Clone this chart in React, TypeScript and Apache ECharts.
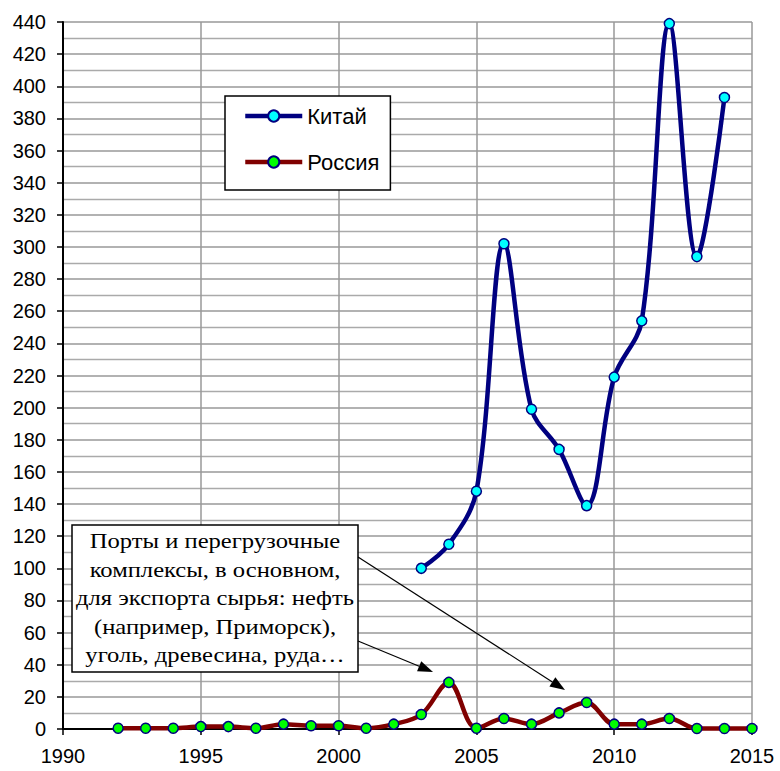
import React, { useEffect, useRef } from "react";
import * as echarts from "echarts";

const chinaYears = [2003, 2004, 2005, 2006, 2007, 2008, 2009, 2010, 2011, 2012, 2013, 2014];
const chinaValues = [100, 115, 148, 302, 199, 174, 139, 219, 254, 439, 294, 393];

const russiaYears = [1992, 1993, 1994, 1995, 1996, 1997, 1998, 1999, 2000, 2001, 2002, 2003, 2004, 2005, 2006, 2007, 2008, 2009, 2010, 2011, 2012, 2013, 2014, 2015];
const russiaValues = [0.5, 0.5, 0.5, 1.5, 1.5, 0.5, 3, 2, 2, 0.5, 3, 9, 29, 0.5, 6.5, 3, 10, 16.5, 3, 3, 6.5, 0.3, 0.3, 0.3];

const seriesNames = ["Китай", "Россия"];
const noteLines = [
  "Порты и перегрузочные",
  "комплексы, в основном,",
  "для экспорта сырья: нефть",
  "(например, Приморск),",
  "уголь, древесина, руда…",
];

function arrow(x1: number, y1: number, x2: number, y2: number) {
  const dx = x2 - x1;
  const dy = y2 - y1;
  const len = Math.sqrt(dx * dx + dy * dy);
  const ux = dx / len;
  const uy = dy / len;
  const hl = 15;
  const hw = 5.5;
  const bx = x2 - ux * hl;
  const by = y2 - uy * hl;
  return [
    { type: "line", shape: { x1, y1, x2: bx, y2: by }, style: { stroke: "#000", lineWidth: 1.2 }, z: 100 },
    {
      type: "polygon",
      shape: { points: [[x2, y2], [bx - uy * hw, by + ux * hw], [bx + uy * hw, by - ux * hw]] },
      style: { fill: "#000" },
      z: 100,
    },
  ];
}

export default function App() {
  const ref = useRef<HTMLDivElement>(null);
  useEffect(() => {
    if (!ref.current) return;
    const chart = echarts.init(ref.current, undefined, { renderer: "svg" });
    const font = "'Liberation Sans', Arial, sans-serif";
    chart.setOption({
      animation: false,
      backgroundColor: "#fff",
      grid: { left: 63, right: 28, top: 22, bottom: 42, containLabel: false },
      legend: {
        orient: "vertical",
        left: 225,
        top: 96,
        padding: [9, 11, 17, 18],
        itemGap: 24,
        itemWidth: 57,
        itemHeight: 14,
        backgroundColor: "#fff",
        borderColor: "#000",
        borderWidth: 1.5,
        borderRadius: 0,
        lineStyle: { width: 4.5 },
        textStyle: { fontFamily: font, fontSize: 22, color: "#000" },
        data: seriesNames,
      },
      xAxis: {
        type: "value",
        min: 1990,
        max: 2015,
        interval: 5,
        axisLine: { show: true, onZero: true, lineStyle: { color: "#000", width: 2 } },
        axisTick: { show: true, inside: false, length: 6, lineStyle: { color: "#000", width: 1.5 } },
        axisLabel: { color: "#000", fontFamily: font, fontSize: 20, margin: 17, formatter: (v: number) => String(v) },
        splitLine: { show: true, lineStyle: { color: "#999", width: 1.5 } },
      },
      yAxis: {
        type: "value",
        min: 0,
        max: 440,
        interval: 20,
        axisLine: { show: true, lineStyle: { color: "#000", width: 2 } },
        axisTick: { show: true, inside: false, length: 6, lineStyle: { color: "#000", width: 1.5 } },
        axisLabel: { color: "#000", fontFamily: font, fontSize: 20, margin: 17 },
        splitLine: { show: true, lineStyle: { color: "#999", width: 1.5 } },
        minorTick: { show: false, splitNumber: 2 },
        minorSplitLine: { show: true, lineStyle: { color: "#aaa", width: 1.3 } },
      },
      series: [
        {
          name: seriesNames[0],
          type: "line",
          smooth: 0.35,
          data: chinaYears.map((y, i) => [y, chinaValues[i]]),
          lineStyle: { color: "#000080", width: 4.5 },
          itemStyle: { color: "#00ffff", borderColor: "#000080", borderWidth: 1.5 },
          symbol: "circle",
          symbolSize: 10,
          z: 3,
        },
        {
          name: seriesNames[1],
          type: "line",
          smooth: 0.35,
          data: russiaYears.map((y, i) => [y, russiaValues[i]]),
          lineStyle: { color: "#800000", width: 4.5 },
          itemStyle: { color: "#00ff00", borderColor: "#000080", borderWidth: 1.5 },
          symbol: "circle",
          symbolSize: 10,
          z: 4,
        },
      ],
      graphic: [
        {
          type: "rect",
          shape: { x: 72, y: 525, width: 286, height: 147 },
          style: { fill: "#fff", stroke: "#000", lineWidth: 1.5 },
          z: 100,
        },
        {
          type: "text",
          x: 215,
          y: 598.5,
          scaleX: 1.2,
          style: {
            text: noteLines.join("\n"),
            fontFamily: "'Liberation Serif', 'Times New Roman', serif",
            fontSize: 20.5,
            lineHeight: 28.6,
            fill: "#000",
            align: "center",
            verticalAlign: "middle",
          },
          z: 101,
        },
        ...arrow(358, 557, 565, 690),
        ...arrow(358, 641, 433, 672),
      ],
    });
    return () => chart.dispose();
  }, []);
  return (
    <div
      ref={ref}
      style={{ position: "fixed", left: 0, top: 0, width: 780, height: 771 }}
    />
  );
}
